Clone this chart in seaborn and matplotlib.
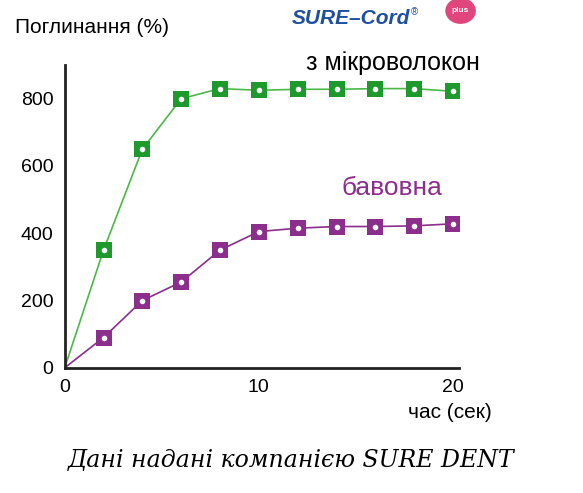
import numpy as np
import pandas as pd
import seaborn as sns
import matplotlib.pyplot as plt
from matplotlib.patches import Circle

time_s = [0, 2, 4, 6, 8, 10, 12, 14, 16, 18, 20]
micro = [0, 350, 650, 800, 830, 825, 828, 828, 830, 830, 822]
cotton = [0, 90, 200, 255, 350, 405, 415, 420, 420, 422, 428]

GREEN = '#1e9a2c'
LINE_GREEN = '#4cb848'
PURPLE = '#8b2e8c'

sns.set_style('white')
plt.rcParams['font.family'] = ['Liberation Sans', 'DejaVu Sans']
plt.rcParams['text.color'] = 'black'

fig = plt.figure(figsize=(5.83, 4.93), dpi=100)
ax = fig.add_axes([0.111, 0.254, 0.676, 0.614])

df = pd.DataFrame({'t': time_s, 'micro': micro, 'cotton': cotton})
sns.lineplot(data=df, x='t', y='micro', ax=ax, color=LINE_GREEN, lw=1.2)
sns.lineplot(data=df, x='t', y='cotton', ax=ax, color=PURPLE, lw=1.2)
pts = df[df.t > 0]
for col, c in [('micro', GREEN), ('cotton', PURPLE)]:
    ax.scatter(pts.t, pts[col], marker='s', s=120, color=c, zorder=3, linewidths=0)
    ax.scatter(pts.t, pts[col], marker='o', s=16, color='white', zorder=4, linewidths=0)

ax.set_xlim(0, 20.3)
ax.set_ylim(0, 900)
ax.set_xticks(np.arange(0, 21, 2))
ax.set_xticklabels(['0', '', '', '', '', '10', '', '', '', '', '20'])
ax.set_yticks(np.arange(0, 901, 100))
ax.set_yticklabels(['0', '', '200', '', '400', '', '600', '', '800', ''])
ax.tick_params(direction='in', length=5, width=1, labelsize=14, colors='black', pad=8)
for s in ['top', 'right']:
    ax.spines[s].set_visible(False)
for s in ['left', 'bottom']:
    ax.spines[s].set_linewidth(2)
    ax.spines[s].set_color('#222222')
ax.set_xlabel('')
ax.set_ylabel('')

fig.text(0.025, 0.945, 'Поглинання (%)', fontsize=15, va='center')
fig.text(0.525, 0.872, 'з мікроволокон', fontsize=18, va='center')
fig.text(0.585, 0.618, 'бавовна', fontsize=19, color=PURPLE, va='center')
fig.text(0.70, 0.163, 'час (сек)', fontsize=15, va='center')
fig.text(0.5, 0.065, 'Дані надані компанією SURE DENT', fontsize=17, ha='center', va='center',
         family='DejaVu Serif', style='italic')
fig.text(0.50, 0.962, 'SURE–Cord', fontsize=15, color='#1f4fa0', weight='bold', style='italic', va='center')
fig.text(0.705, 0.975, '®', fontsize=7, color='#1f4fa0', va='center')
fig.patches.append(Circle((0.79, 0.978), 0.025, transform=fig.transFigure, color='#e0457b'))
fig.text(0.79, 0.978, 'plus', fontsize=6, color='white', weight='bold', ha='center', va='center')

fig.savefig('out.png', dpi=100)
